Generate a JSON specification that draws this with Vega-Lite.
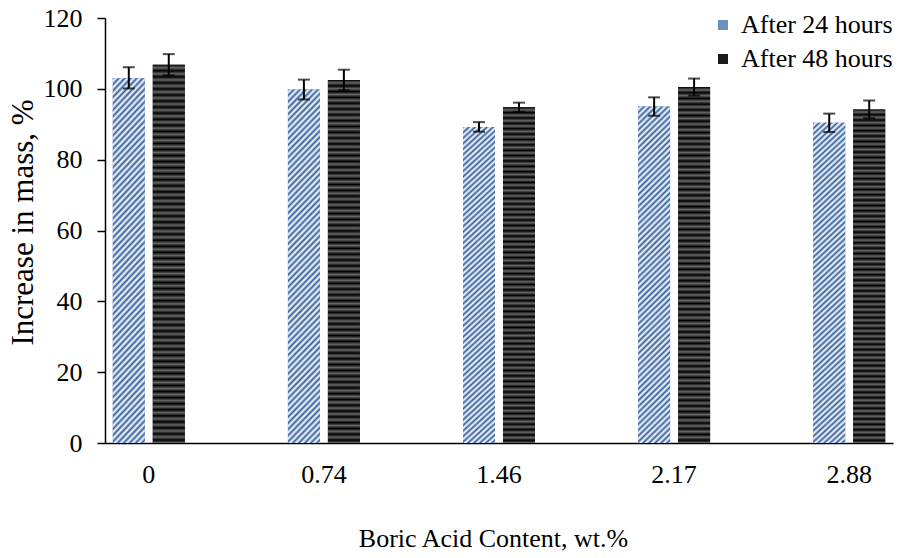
{
  "$schema": "https://vega.github.io/schema/vega-lite/v6.json",
  "width": 788,
  "height": 425,
  "autosize": {"type": "none"},
  "padding": {"left": 105, "top": 18, "right": 5, "bottom": 115},
  "config": {
    "font": "Liberation Serif",
    "view": {"stroke": null},
    "axis": {"grid": false, "domainColor": "#000", "domainWidth": 1.5, "tickColor": "#000", "labelColor": "#000", "titleColor": "#000", "labelFontSize": 26, "titleFontSize": 26, "titleFontWeight": "normal", "labelFont": "Liberation Serif", "titleFont": "Liberation Serif"},
    "legend": {"labelFont": "Liberation Serif", "labelFontSize": 26, "labelColor": "#000"}
  },
  "data": {
    "values": [
      {"content": "0", "series": "After 24 hours", "mean": 103.0, "lo": 100.1, "hi": 106.1},
      {"content": "0", "series": "After 48 hours", "mean": 106.8, "lo": 103.8, "hi": 109.8},
      {"content": "0.74", "series": "After 24 hours", "mean": 99.8, "lo": 97.0, "hi": 102.6},
      {"content": "0.74", "series": "After 48 hours", "mean": 102.5, "lo": 99.6, "hi": 105.4},
      {"content": "1.46", "series": "After 24 hours", "mean": 89.2, "lo": 87.9, "hi": 90.6},
      {"content": "1.46", "series": "After 48 hours", "mean": 94.8, "lo": 93.5, "hi": 96.1},
      {"content": "2.17", "series": "After 24 hours", "mean": 95.0, "lo": 92.4, "hi": 97.6},
      {"content": "2.17", "series": "After 48 hours", "mean": 100.5, "lo": 98.1, "hi": 102.9},
      {"content": "2.88", "series": "After 24 hours", "mean": 90.4, "lo": 87.8, "hi": 93.0},
      {"content": "2.88", "series": "After 48 hours", "mean": 94.2, "lo": 91.7, "hi": 96.7}
    ]
  },
  "encoding": {
    "x": {
      "field": "content", "type": "ordinal", "sort": null,
      "scale": {"paddingInner": 0.589, "paddingOuter": 0.0445},
      "title": "Boric Acid Content, wt.%",
      "axis": {"labelAngle": 0, "ticks": false, "labelPadding": 18, "titleX": 388, "titleY": 103, "titleBaseline": "alphabetic"}
    },
    "xOffset": {"field": "series", "type": "nominal", "scale": {"paddingInner": 0.2, "paddingOuter": 0}}
  },
  "layer": [
    {
      "mark": {"type": "bar", "strokeWidth": 0},
      "encoding": {
        "y": {
          "field": "mean", "type": "quantitative",
          "scale": {"domain": [0, 120]},
          "title": "Increase in mass, %",
          "axis": {"values": [0, 20, 40, 60, 80, 100, 120], "tickSize": 8, "tickWidth": 1.5, "labelPadding": 15, "titleFontSize": 31, "titleX": -73, "titleY": 204, "titleBaseline": "alphabetic", "titleAngle": -90, "titleAlign": "center"}
        },
        "fill": {
          "field": "series", "type": "nominal",
          "scale": {"range": ["#6f8fc0", "#1a1a1a"]},
          "legend": {"title": null, "orient": "none", "legendX": 605, "legendY": -6, "symbolType": "square", "symbolSize": 100, "symbolStrokeWidth": 0, "labelOffset": 5, "rowPadding": 8, "padding": 0}
        }
      }
    },
    {
      "transform": [{"filter": "datum.series === 'After 24 hours'"}],
      "mark": {"type": "bar", "strokeWidth": 0, "fill": {"gradient": "linear", "x1": 0, "y1": 0, "x2": 0.1008, "y2": 1.0836, "stops": [
              {"offset": 0, "color": "#33609f"}, {"offset": 0.008, "color": "#fff"}, {"offset": 0.016, "color": "#33609f"}, {"offset": 0.024, "color": "#fff"}, {"offset": 0.032, "color": "#33609f"}, {"offset": 0.04, "color": "#fff"}, {"offset": 0.048, "color": "#33609f"}, {"offset": 0.056, "color": "#fff"}, {"offset": 0.064, "color": "#33609f"}, {"offset": 0.072, "color": "#fff"}, {"offset": 0.08, "color": "#33609f"}, {"offset": 0.088, "color": "#fff"}, {"offset": 0.096, "color": "#33609f"}, {"offset": 0.104, "color": "#fff"}, {"offset": 0.112, "color": "#33609f"}, {"offset": 0.12, "color": "#fff"}, {"offset": 0.128, "color": "#33609f"}, {"offset": 0.136, "color": "#fff"}, {"offset": 0.144, "color": "#33609f"}, {"offset": 0.152, "color": "#fff"}, {"offset": 0.16, "color": "#33609f"}, {"offset": 0.168, "color": "#fff"}, {"offset": 0.176, "color": "#33609f"}, {"offset": 0.184, "color": "#fff"}, {"offset": 0.192, "color": "#33609f"}, {"offset": 0.2, "color": "#fff"}, {"offset": 0.208, "color": "#33609f"}, {"offset": 0.216, "color": "#fff"}, {"offset": 0.224, "color": "#33609f"}, {"offset": 0.232, "color": "#fff"}, {"offset": 0.24, "color": "#33609f"}, {"offset": 0.248, "color": "#fff"}, {"offset": 0.256, "color": "#33609f"}, {"offset": 0.264, "color": "#fff"}, {"offset": 0.272, "color": "#33609f"}, {"offset": 0.28, "color": "#fff"}, {"offset": 0.288, "color": "#33609f"}, {"offset": 0.296, "color": "#fff"}, {"offset": 0.304, "color": "#33609f"}, {"offset": 0.312, "color": "#fff"}, {"offset": 0.32, "color": "#33609f"}, {"offset": 0.328, "color": "#fff"}, {"offset": 0.336, "color": "#33609f"}, {"offset": 0.344, "color": "#fff"}, {"offset": 0.352, "color": "#33609f"}, {"offset": 0.36, "color": "#fff"}, {"offset": 0.368, "color": "#33609f"}, {"offset": 0.376, "color": "#fff"}, {"offset": 0.384, "color": "#33609f"}, {"offset": 0.392, "color": "#fff"}, {"offset": 0.4, "color": "#33609f"}, {"offset": 0.408, "color": "#fff"}, {"offset": 0.416, "color": "#33609f"}, {"offset": 0.424, "color": "#fff"}, {"offset": 0.432, "color": "#33609f"}, {"offset": 0.44, "color": "#fff"}, {"offset": 0.448, "color": "#33609f"}, {"offset": 0.456, "color": "#fff"}, {"offset": 0.464, "color": "#33609f"}, {"offset": 0.472, "color": "#fff"}, {"offset": 0.48, "color": "#33609f"}, {"offset": 0.488, "color": "#fff"}, {"offset": 0.496, "color": "#33609f"}, {"offset": 0.504, "color": "#fff"}, {"offset": 0.512, "color": "#33609f"}, {"offset": 0.52, "color": "#fff"}, {"offset": 0.528, "color": "#33609f"}, {"offset": 0.536, "color": "#fff"}, {"offset": 0.544, "color": "#33609f"}, {"offset": 0.552, "color": "#fff"}, {"offset": 0.56, "color": "#33609f"}, {"offset": 0.568, "color": "#fff"}, {"offset": 0.576, "color": "#33609f"}, {"offset": 0.584, "color": "#fff"}, {"offset": 0.592, "color": "#33609f"}, {"offset": 0.6, "color": "#fff"}, {"offset": 0.608, "color": "#33609f"}, {"offset": 0.616, "color": "#fff"}, {"offset": 0.624, "color": "#33609f"}, {"offset": 0.632, "color": "#fff"}, {"offset": 0.64, "color": "#33609f"}, {"offset": 0.648, "color": "#fff"}, {"offset": 0.656, "color": "#33609f"}, {"offset": 0.664, "color": "#fff"}, {"offset": 0.672, "color": "#33609f"}, {"offset": 0.68, "color": "#fff"}, {"offset": 0.688, "color": "#33609f"}, {"offset": 0.696, "color": "#fff"}, {"offset": 0.704, "color": "#33609f"}, {"offset": 0.712, "color": "#fff"}, {"offset": 0.72, "color": "#33609f"}, {"offset": 0.728, "color": "#fff"}, {"offset": 0.736, "color": "#33609f"}, {"offset": 0.744, "color": "#fff"}, {"offset": 0.752, "color": "#33609f"}, {"offset": 0.76, "color": "#fff"}, {"offset": 0.768, "color": "#33609f"}, {"offset": 0.776, "color": "#fff"}, {"offset": 0.784, "color": "#33609f"}, {"offset": 0.792, "color": "#fff"}, {"offset": 0.8, "color": "#33609f"}, {"offset": 0.808, "color": "#fff"}, {"offset": 0.816, "color": "#33609f"}, {"offset": 0.824, "color": "#fff"}, {"offset": 0.832, "color": "#33609f"}, {"offset": 0.84, "color": "#fff"}, {"offset": 0.848, "color": "#33609f"}, {"offset": 0.856, "color": "#fff"}, {"offset": 0.864, "color": "#33609f"}, {"offset": 0.872, "color": "#fff"}, {"offset": 0.88, "color": "#33609f"}, {"offset": 0.888, "color": "#fff"}, {"offset": 0.896, "color": "#33609f"}, {"offset": 0.904, "color": "#fff"}, {"offset": 0.912, "color": "#33609f"}, {"offset": 0.92, "color": "#fff"}, {"offset": 0.928, "color": "#33609f"}, {"offset": 0.936, "color": "#fff"}, {"offset": 0.944, "color": "#33609f"}, {"offset": 0.952, "color": "#fff"}, {"offset": 0.96, "color": "#33609f"}, {"offset": 0.968, "color": "#fff"}, {"offset": 0.976, "color": "#33609f"}, {"offset": 0.984, "color": "#fff"}, {"offset": 0.992, "color": "#33609f"}, {"offset": 1, "color": "#fff"}
            ]}},
      "encoding": {
        "y": {"field": "mean", "type": "quantitative"}
      }
    },
    {
      "transform": [{"filter": "datum.series === 'After 48 hours'"}],
      "mark": {"type": "bar", "strokeWidth": 0, "fill": {"gradient": "linear", "x1": 0, "y1": 0, "x2": 0, "y2": 1, "stops": [
              {"offset": 0, "color": "#000"}, {"offset": 0.008, "color": "#666"}, {"offset": 0.016, "color": "#000"}, {"offset": 0.024, "color": "#666"}, {"offset": 0.032, "color": "#000"}, {"offset": 0.04, "color": "#666"}, {"offset": 0.048, "color": "#000"}, {"offset": 0.056, "color": "#666"}, {"offset": 0.064, "color": "#000"}, {"offset": 0.072, "color": "#666"}, {"offset": 0.08, "color": "#000"}, {"offset": 0.088, "color": "#666"}, {"offset": 0.096, "color": "#000"}, {"offset": 0.104, "color": "#666"}, {"offset": 0.112, "color": "#000"}, {"offset": 0.12, "color": "#666"}, {"offset": 0.128, "color": "#000"}, {"offset": 0.136, "color": "#666"}, {"offset": 0.144, "color": "#000"}, {"offset": 0.152, "color": "#666"}, {"offset": 0.16, "color": "#000"}, {"offset": 0.168, "color": "#666"}, {"offset": 0.176, "color": "#000"}, {"offset": 0.184, "color": "#666"}, {"offset": 0.192, "color": "#000"}, {"offset": 0.2, "color": "#666"}, {"offset": 0.208, "color": "#000"}, {"offset": 0.216, "color": "#666"}, {"offset": 0.224, "color": "#000"}, {"offset": 0.232, "color": "#666"}, {"offset": 0.24, "color": "#000"}, {"offset": 0.248, "color": "#666"}, {"offset": 0.256, "color": "#000"}, {"offset": 0.264, "color": "#666"}, {"offset": 0.272, "color": "#000"}, {"offset": 0.28, "color": "#666"}, {"offset": 0.288, "color": "#000"}, {"offset": 0.296, "color": "#666"}, {"offset": 0.304, "color": "#000"}, {"offset": 0.312, "color": "#666"}, {"offset": 0.32, "color": "#000"}, {"offset": 0.328, "color": "#666"}, {"offset": 0.336, "color": "#000"}, {"offset": 0.344, "color": "#666"}, {"offset": 0.352, "color": "#000"}, {"offset": 0.36, "color": "#666"}, {"offset": 0.368, "color": "#000"}, {"offset": 0.376, "color": "#666"}, {"offset": 0.384, "color": "#000"}, {"offset": 0.392, "color": "#666"}, {"offset": 0.4, "color": "#000"}, {"offset": 0.408, "color": "#666"}, {"offset": 0.416, "color": "#000"}, {"offset": 0.424, "color": "#666"}, {"offset": 0.432, "color": "#000"}, {"offset": 0.44, "color": "#666"}, {"offset": 0.448, "color": "#000"}, {"offset": 0.456, "color": "#666"}, {"offset": 0.464, "color": "#000"}, {"offset": 0.472, "color": "#666"}, {"offset": 0.48, "color": "#000"}, {"offset": 0.488, "color": "#666"}, {"offset": 0.496, "color": "#000"}, {"offset": 0.504, "color": "#666"}, {"offset": 0.512, "color": "#000"}, {"offset": 0.52, "color": "#666"}, {"offset": 0.528, "color": "#000"}, {"offset": 0.536, "color": "#666"}, {"offset": 0.544, "color": "#000"}, {"offset": 0.552, "color": "#666"}, {"offset": 0.56, "color": "#000"}, {"offset": 0.568, "color": "#666"}, {"offset": 0.576, "color": "#000"}, {"offset": 0.584, "color": "#666"}, {"offset": 0.592, "color": "#000"}, {"offset": 0.6, "color": "#666"}, {"offset": 0.608, "color": "#000"}, {"offset": 0.616, "color": "#666"}, {"offset": 0.624, "color": "#000"}, {"offset": 0.632, "color": "#666"}, {"offset": 0.64, "color": "#000"}, {"offset": 0.648, "color": "#666"}, {"offset": 0.656, "color": "#000"}, {"offset": 0.664, "color": "#666"}, {"offset": 0.672, "color": "#000"}, {"offset": 0.68, "color": "#666"}, {"offset": 0.688, "color": "#000"}, {"offset": 0.696, "color": "#666"}, {"offset": 0.704, "color": "#000"}, {"offset": 0.712, "color": "#666"}, {"offset": 0.72, "color": "#000"}, {"offset": 0.728, "color": "#666"}, {"offset": 0.736, "color": "#000"}, {"offset": 0.744, "color": "#666"}, {"offset": 0.752, "color": "#000"}, {"offset": 0.76, "color": "#666"}, {"offset": 0.768, "color": "#000"}, {"offset": 0.776, "color": "#666"}, {"offset": 0.784, "color": "#000"}, {"offset": 0.792, "color": "#666"}, {"offset": 0.8, "color": "#000"}, {"offset": 0.808, "color": "#666"}, {"offset": 0.816, "color": "#000"}, {"offset": 0.824, "color": "#666"}, {"offset": 0.832, "color": "#000"}, {"offset": 0.84, "color": "#666"}, {"offset": 0.848, "color": "#000"}, {"offset": 0.856, "color": "#666"}, {"offset": 0.864, "color": "#000"}, {"offset": 0.872, "color": "#666"}, {"offset": 0.88, "color": "#000"}, {"offset": 0.888, "color": "#666"}, {"offset": 0.896, "color": "#000"}, {"offset": 0.904, "color": "#666"}, {"offset": 0.912, "color": "#000"}, {"offset": 0.92, "color": "#666"}, {"offset": 0.928, "color": "#000"}, {"offset": 0.936, "color": "#666"}, {"offset": 0.944, "color": "#000"}, {"offset": 0.952, "color": "#666"}, {"offset": 0.96, "color": "#000"}, {"offset": 0.968, "color": "#666"}, {"offset": 0.976, "color": "#000"}, {"offset": 0.984, "color": "#666"}, {"offset": 0.992, "color": "#000"}, {"offset": 1, "color": "#666"}
            ]}},
      "encoding": {
        "y": {"field": "mean", "type": "quantitative"}
      }
    },
    {
      "mark": {"type": "rule", "color": "#000", "strokeWidth": 2},
      "encoding": {
        "y": {"field": "lo", "type": "quantitative"},
        "y2": {"field": "hi"}
      }
    },
    {
      "mark": {"type": "tick", "color": "#000", "thickness": 2, "size": 12},
      "encoding": {
        "y": {"field": "lo", "type": "quantitative"}
      }
    },
    {
      "mark": {"type": "tick", "color": "#000", "thickness": 2, "size": 12},
      "encoding": {
        "y": {"field": "hi", "type": "quantitative"}
      }
    }
  ]
}
